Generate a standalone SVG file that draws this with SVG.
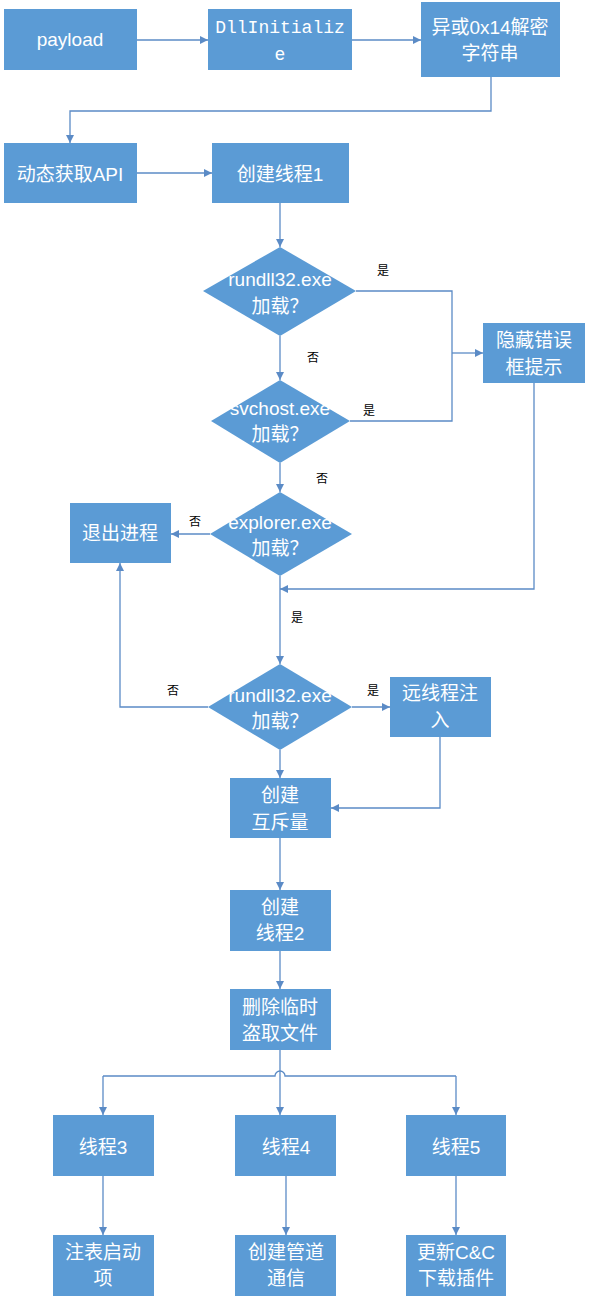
<svg xmlns="http://www.w3.org/2000/svg" width="593" height="1302" viewBox="0 0 593 1302">
<defs>
<marker id="arr" viewBox="0 0 10 10" refX="10" refY="5" markerWidth="9" markerHeight="8" markerUnits="userSpaceOnUse" orient="auto">
<path d="M0,0 L10,5 L0,10 z" fill="#5B8BC6"/>
</marker>
<style>
.box{fill:#5B9BD5;}
.t{fill:#ffffff;font-family:"Liberation Sans","Noto Sans CJK SC",sans-serif;font-size:19px;text-anchor:middle;}
.q{fill:#ffffff;font-family:"Noto Sans CJK SC",sans-serif;font-size:19px;text-anchor:middle;}
.m{fill:#ffffff;font-family:"Liberation Mono",monospace;font-size:18px;text-anchor:middle;}
.c{stroke:#5B8BC6;stroke-width:1.3;fill:none;}
.a{marker-end:url(#arr);}
.l{fill:#000000;font-family:"Noto Sans CJK SC",sans-serif;font-size:12px;text-anchor:middle;}
</style>
</defs>
<rect width="593" height="1302" fill="#ffffff"/>

<g id="connectors">
<path class="c a" d="M137,40 L208,40"/>
<path class="c a" d="M352,40 L421,40"/>
<path class="c a" d="M491,77 L491,111 L70,111 L70,143"/>
<path class="c a" d="M137,173 L212,173"/>
<path class="c a" d="M280,203 L280,247"/>
<path class="c" d="M356,291 L452,291 L452,421 L350,421"/>
<path class="c a" d="M452,353 L483,353"/>
<path class="c a" d="M280,336 L280,380"/>
<path class="c a" d="M280,463 L280,492"/>
<path class="c a" d="M210,534 L171,534"/>
<path class="c a" d="M534,383 L534,589 L280,589"/>
<path class="c a" d="M280,576 L280,664"/>
<path class="c a" d="M208,707 L120,707 L120,563"/>
<path class="c a" d="M352,707 L390,707"/>
<path class="c a" d="M440,737 L440,808 L331,808"/>
<path class="c a" d="M280,750 L280,778"/>
<path class="c a" d="M280,838 L280,890"/>
<path class="c a" d="M280,951 L280,989"/>
<path class="c a" d="M280,1050 L280,1115"/>
<path class="c" d="M103,1076 L275,1076 A5,5 0 0 1 285,1076 L456,1076"/>
<path class="c a" d="M103,1076 L103,1115"/>
<path class="c a" d="M456,1076 L456,1115"/>
<path class="c a" d="M103,1176 L103,1235"/>
<path class="c a" d="M286,1176 L286,1235"/>
<path class="c a" d="M456,1176 L456,1235"/>
</g>

<g id="labels">
<text class="l" x="383" y="275">是</text>
<text class="l" x="313" y="362">否</text>
<text class="l" x="369" y="415">是</text>
<text class="l" x="322" y="483">否</text>
<text class="l" x="195" y="526">否</text>
<text class="l" x="297" y="622">是</text>
<text class="l" x="173" y="695">否</text>
<text class="l" x="373" y="695">是</text>
</g>

<g id="payload"><rect class="box" x="4" y="9" width="133" height="61"/><text class="t" x="70" y="46">payload</text></g>
<g id="dllinit"><rect class="box" x="208" y="9" width="144" height="61"/><text class="m" x="280" y="33">DllInitializ</text><text class="m" x="280" y="60">e</text></g>
<g id="xor"><rect class="box" x="421" y="2" width="139" height="75"/><text class="t" x="490" y="34">异或0x14解密</text><text class="t" x="490" y="60">字符串</text></g>
<g id="getapi"><rect class="box" x="4" y="143" width="133" height="60"/><text class="t" x="70" y="181">动态获取API</text></g>
<g id="thread1"><rect class="box" x="212" y="143" width="137" height="60"/><text class="t" x="280" y="181">创建线程1</text></g>

<g id="d1"><polygon class="box" points="280,247 356,291 280,336 203,291"/><text class="t" x="280" y="286">rundll32.exe</text><text class="q" x="280" y="313">加载？</text></g>
<g id="hide"><rect class="box" x="483" y="323" width="102" height="60"/><text class="t" x="534" y="347">隐藏错误</text><text class="t" x="534" y="374">框提示</text></g>
<g id="d2"><polygon class="box" points="280,380 350,421 280,463 211,421"/><text class="t" x="280" y="415">svchost.exe</text><text class="q" x="280" y="441">加载？</text></g>
<g id="d3"><polygon class="box" points="280,492 352,534 280,576 210,534"/><text class="t" x="280" y="529">explorer.exe</text><text class="q" x="280" y="555">加载？</text></g>
<g id="exit"><rect class="box" x="70" y="503" width="101" height="60"/><text class="t" x="120" y="540">退出进程</text></g>
<g id="d4"><polygon class="box" points="280,664 352,707 280,750 208,707"/><text class="t" x="280" y="702">rundll32.exe</text><text class="q" x="280" y="728">加载？</text></g>
<g id="inject"><rect class="box" x="390" y="677" width="101" height="60"/><text class="t" x="440" y="700">远线程注</text><text class="t" x="440" y="727">入</text></g>
<g id="mutex"><rect class="box" x="230" y="778" width="101" height="60"/><text class="t" x="280" y="802">创建</text><text class="t" x="280" y="829">互斥量</text></g>
<g id="thread2"><rect class="box" x="230" y="890" width="101" height="61"/><text class="t" x="280" y="914">创建</text><text class="t" x="280" y="940">线程2</text></g>
<g id="delete"><rect class="box" x="230" y="989" width="101" height="61"/><text class="t" x="280" y="1014">删除临时</text><text class="t" x="280" y="1040">盗取文件</text></g>
<g id="thread3"><rect class="box" x="53" y="1115" width="101" height="61"/><text class="t" x="103" y="1154">线程3</text></g>
<g id="thread4"><rect class="box" x="235" y="1115" width="101" height="61"/><text class="t" x="286" y="1154">线程4</text></g>
<g id="thread5"><rect class="box" x="406" y="1115" width="100" height="61"/><text class="t" x="456" y="1154">线程5</text></g>
<g id="autorun"><rect class="box" x="53" y="1235" width="101" height="61"/><text class="t" x="103" y="1259">注表启动</text><text class="t" x="103" y="1285">项</text></g>
<g id="pipe"><rect class="box" x="235" y="1235" width="101" height="61"/><text class="t" x="286" y="1259">创建管道</text><text class="t" x="286" y="1285">通信</text></g>
<g id="update"><rect class="box" x="406" y="1235" width="100" height="61"/><text class="t" x="456" y="1259">更新C&amp;C</text><text class="t" x="456" y="1285">下载插件</text></g>
</svg>
